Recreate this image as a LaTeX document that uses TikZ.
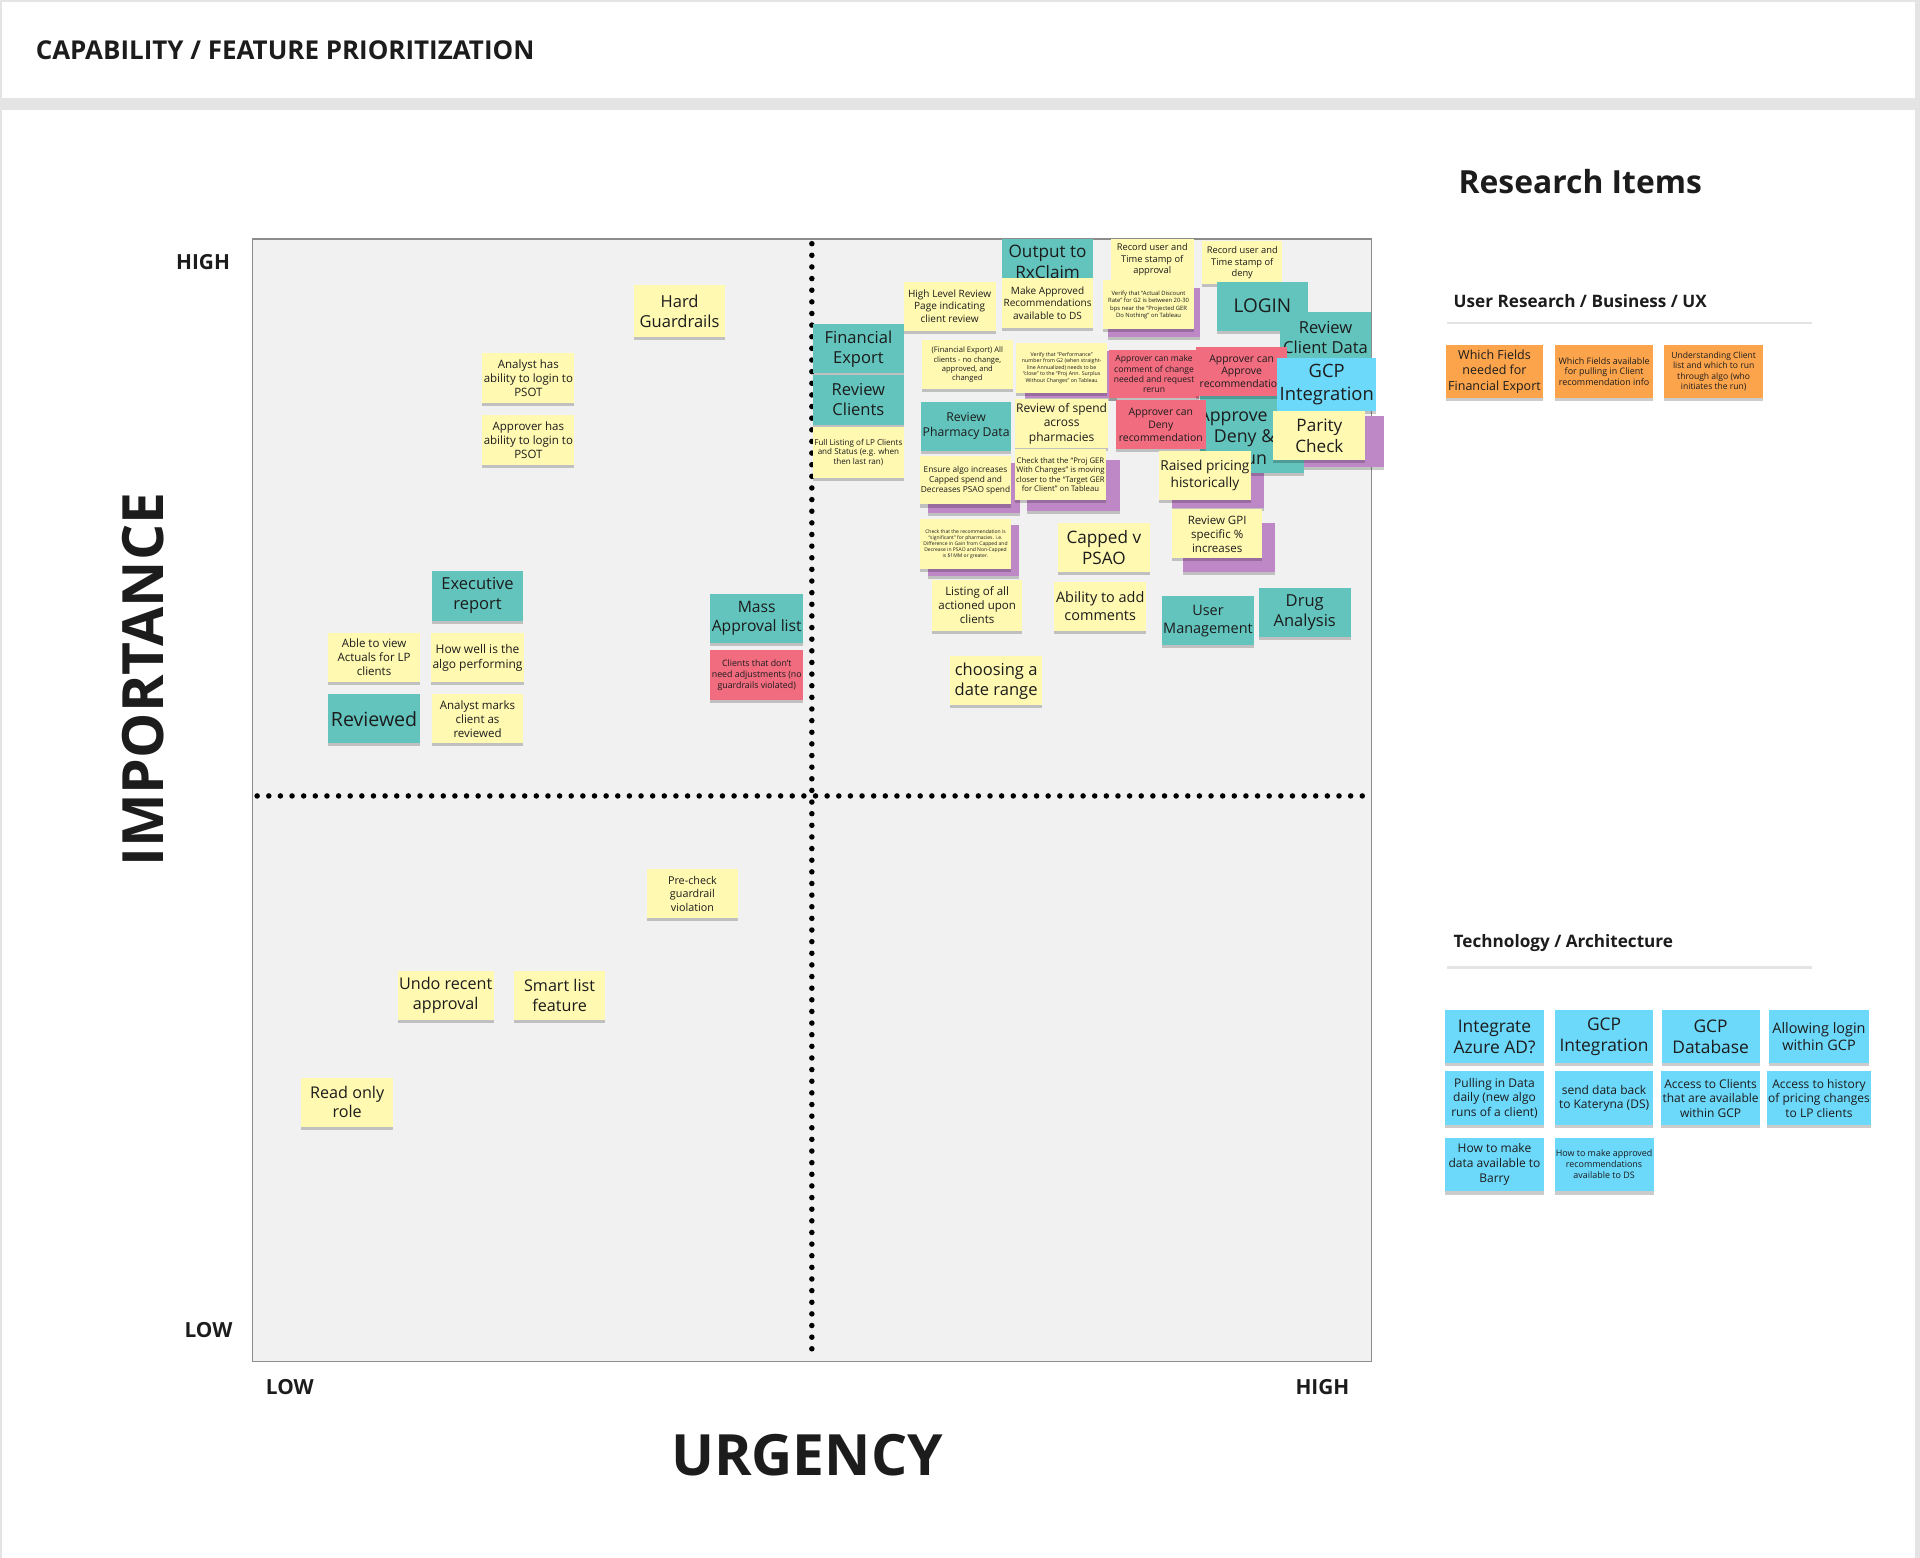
\documentclass[tikz,border=0pt]{standalone}
\usepackage{fontspec}
\setmainfont{Open Sans}
\usetikzlibrary{shadows}
\definecolor{yel}{HTML}{FFF9B1}
\definecolor{teal}{HTML}{62C4BD}
\definecolor{redn}{HTML}{F16C7F}
\definecolor{viol}{HTML}{BE88C7}
\definecolor{cyan}{HTML}{6CD8FA}
\definecolor{oran}{HTML}{FCA44C}
\definecolor{plotbg}{HTML}{F1F1F1}
\definecolor{plotline}{HTML}{8C8C8C}
\definecolor{txt}{HTML}{1C1C1C}
\definecolor{frame}{HTML}{E4E4E4}
\newcommand{\fs}[1]{\fontsize{#1pt}{\fpeval{#1*1.22}pt}\selectfont}
\tikzset{
  note/.style={rectangle, inner sep=1pt, align=center, text=txt,
    drop shadow={shadow xshift=0pt, shadow yshift=-2.5pt, opacity=0.2, fill=black}},
  notetext/.style={inner sep=0pt, align=center, text=txt},
  dots/.style={line width=4.5pt, line cap=round, dash pattern=on 0pt off 9.5pt, black},
  axislbl/.style={font=\bfseries\fs{17}, text=txt, inner sep=0pt},
  heading/.style={text=txt, inner sep=0pt, anchor=west},
  sepline/.style={draw=frame, line width=2pt}
}
\newcommand{\stick}[8]{\node[note,fill=#6,font=\fs{#7},minimum width={(#4-#2)*1pt},minimum height={(#5-#3)*1pt}] (#1) at ({(#2+#4)/2},{(#3+#5)/2}) {#8};}
\begin{document}
\begin{tikzpicture}[x=1pt,y=-1pt]
\useasboundingbox (0,0) rectangle (1568,1272);
% page frame
\fill[frame] (0,0) rectangle (1568,1272);
\fill[white] (2,2) rectangle (1564,80);
\fill[white] (2,90) rectangle (1564,1272);
\node[heading, font=\bfseries\fs{21.2}] (title) at (29,41) {CAPABILITY / FEATURE PRIORITIZATION};
% plot
\node[draw=plotline, line width=1.2pt, fill=plotbg, minimum width=914pt, minimum height=917pt, inner sep=0pt] (plot) at (663,653.5) {};
\coordinate (vtop) at (663,199);
\coordinate (vbot) at (663,1108);
\coordinate (hleft) at (210,650);
\coordinate (hright) at (1116,650);
\draw[dots] (vtop) -- (vbot);
\draw[dots] (hleft) -- (hright);
% axis labels
\node[axislbl, anchor=east] (ihigh) at (188,214) {HIGH};
\node[axislbl, anchor=east] (ilow) at (190,1086) {LOW};
\node[axislbl, anchor=west] (ulow) at (217,1133) {LOW};
\node[axislbl] (uhigh) at (1080,1133) {HIGH};
\node[font=\bfseries\fs{46.5}, text=txt, rotate=90] (imp) at (117,555) {IMPORTANCE};
\node[font=\bfseries\fs{46.5}, text=txt] (urg) at (659,1188) {URGENCY};
% purple notes behind
\stick{p1}{905}{235}{980}{275}{viol}{5}{}
\stick{p2}{837}{287}{912}{325}{viol}{5}{}
\stick{p3}{758}{378}{833}{419}{viol}{5}{}
\stick{p4}{839}{376}{915}{417}{viol}{5}{}
\stick{p5}{758}{429}{832}{470}{viol}{5}{}
\stick{p6}{957}{384}{1032}{415}{viol}{5}{}
\stick{p7}{966}{427}{1041}{467}{viol}{5}{}
\stick{p8}{1064}{340}{1130}{381}{viol}{5}{}
% upper right cluster
\stick{rx}{818}{195}{893}{232}{teal}{14}{Output to\\RxClaim}
\stick{mkds}{818}{227}{893}{268}{yel}{8.2}{Make Approved\\Recommendations\\available to DS}
\stick{hlr}{738}{230}{813}{270}{yel}{8.2}{High Level Review\\Page indicating\\client review}
\stick{rua}{907}{195}{975}{229}{yel}{7.6}{Record user and\\Time stamp of\\approval}
\stick{vad}{901}{229}{975}{269}{yel}{4.8}{Verify that “Actual Discount\\Rate” for G2 is between 20-30\\bps near the “Projected GER\\Do Nothing” on Tableau}
\stick{rud}{982}{197}{1047}{232}{yel}{7.6}{Record user and\\Time stamp of\\deny}
\stick{login}{994}{230}{1068}{270}{teal}{15.5}{LOGIN}
\stick{rcd}{1045}{255}{1120}{296}{teal}{13.5}{Review\\Client Data}
\stick{finx}{664}{265}{738}{305}{teal}{13.5}{Financial\\Export}
\stick{revc}{664}{306}{738}{347}{teal}{13.5}{Review\\Clients}
\stick{full}{664}{349}{738}{390}{yel}{6.6}{Full Listing of LP Clients\\and Status (e.g. when\\then last ran)}
\stick{fxall}{753}{278}{827}{318}{yel}{6.2}{(Financial Export) All\\clients - no change,\\approved, and\\changed}
\stick{vperf}{830}{280}{904}{321}{yel}{4.3}{Verify that “Performance”\\number from G2 (when straight-\\line Annualized) needs to be\\“close” to the “Proj Ann. Surplus\\Without Changes” on Tableau}
\stick{amc}{906}{286}{979}{325}{redn}{7}{Approver can make\\comment of change\\needed and request\\rerun}
\stick{adr}{980}{318}{1065}{386}{teal}{14}{}
\node[notetext, font=\fs{14.5}] (adrA) at (1007,341) {Approve};
\node[notetext, font=\fs{14.5}] (adrB) at (1016,365) {Deny \&\\rerun};
\stick{aca}{977}{283}{1051}{323}{redn}{8.5}{Approver can\\Approve\\recommendation}
\stick{gcpi}{1043}{292}{1124}{336}{cyan}{15}{GCP\\Integration}
\stick{rpd}{752}{328}{826}{368}{teal}{10}{Review\\Pharmacy Data}
\stick{rsp}{830}{326}{904}{366}{yel}{9.8}{Review of spend\\across\\pharmacies}
\stick{acd}{911}{327}{985}{367}{redn}{8.5}{Approver can\\Deny\\recommendation}
\stick{parity}{1040}{336}{1115}{376}{yel}{14}{Parity\\Check}
\stick{ens}{751}{372}{826}{412}{yel}{6.8}{Ensure algo increases\\Capped spend and\\Decreases PSAO spend}
\stick{cpg}{830}{367}{902}{408}{yel}{6.3}{Check that the “Proj GER\\With Changes” is moving\\closer to the “Target GER\\for Client” on Tableau}
\stick{rph}{947}{368}{1021}{408}{yel}{11.2}{Raised pricing\\historically}
\stick{csig}{751}{424}{826}{465}{yel}{4.1}{Check that the recommendation is\\“significant” for pharmacies. i.e.\\Difference in Gain from Capped and\\Decrease in PSAO and Non-Capped\\is \$1MM or greater.}
\stick{gpi}{957}{416}{1031}{456}{yel}{9.4}{Review GPI\\specific \%\\increases}
\stick{cvp}{864}{427}{939}{467}{yel}{14}{Capped v\\PSAO}
\stick{loa}{761}{474}{835}{515}{yel}{9.4}{Listing of all\\actioned upon\\clients}
\stick{aac}{861}{475}{936}{515}{yel}{11.8}{Ability to add\\comments}
\stick{um}{949}{487}{1024}{527}{teal}{11.8}{User\\Management}
\stick{drug}{1028}{480}{1103}{520}{teal}{13.5}{Drug\\Analysis}
\stick{cdr}{776}{536}{851}{576}{yel}{13.5}{choosing a\\date range}
% left upper quadrant
\stick{hard}{518}{233}{592}{275}{yel}{13.5}{Hard\\Guardrails}
\stick{anl}{394}{288}{469}{329}{yel}{9.4}{Analyst has\\ability to login to\\PSOT}
\stick{apl}{394}{339}{469}{380}{yel}{9.4}{Approver has\\ability to login to\\PSOT}
\stick{exr}{353}{466}{427}{507}{teal}{13.5}{Executive\\report}
\stick{atv}{268}{517}{343}{557}{yel}{9.4}{Able to view\\Actuals for LP\\clients}
\stick{hwa}{353}{517}{427}{557}{yel}{9.8}{How well is the\\algo performing}
\stick{revd}{268}{567}{343}{607}{teal}{16}{Reviewed}
\stick{amr}{353}{567}{427}{607}{yel}{9.4}{Analyst marks\\client as\\reviewed}
\stick{mal}{580}{485}{656}{525}{teal}{12.8}{Mass\\Approval list}
\stick{cdn}{580}{531}{656}{572}{redn}{7.2}{Clients that don’t\\need adjustments (no\\guardrails violated)}
% lower left quadrant
\stick{pcg}{528}{710}{603}{750}{yel}{8.8}{Pre-check\\guardrail\\violation}
\stick{undo}{326}{793}{402}{833}{yel}{13.2}{Undo recent\\approval}
\stick{slf}{420}{793}{494}{833}{yel}{13.2}{Smart list\\feature}
\stick{rorole}{246}{880}{321}{920}{yel}{13.2}{Read only\\role}
% research panel
\node[heading, font=\bfseries\fs{26}] (research) at (1191,148) {Research Items};
\node[heading, font=\bfseries\fs{14}] (ures) at (1187,246) {User Research / Business / UX};
\coordinate (l1a) at (1182,264);
\coordinate (l1b) at (1480,264);
\draw[sepline] (l1a) -- (l1b);
\stick{o1}{1181}{282}{1260}{325}{oran}{10.2}{Which Fields\\needed for\\Financial Export}
\stick{o2}{1270}{282}{1350}{325}{oran}{7.3}{Which Fields available\\for pulling in Client\\recommendation info}
\stick{o3}{1359}{282}{1440}{325}{oran}{7}{Understanding Client\\list and which to run\\through algo (who\\initiates the run)}
\node[heading, font=\bfseries\fs{14}] (tech) at (1187,770) {Technology / Architecture};
\coordinate (l2a) at (1182,790);
\coordinate (l2b) at (1480,790);
\draw[sepline] (l2a) -- (l2b);
\stick{t1}{1180}{825}{1261}{868}{cyan}{14.2}{Integrate\\Azure AD?}
\stick{t2}{1270}{825}{1350}{868}{cyan}{14.2}{GCP\\Integration}
\stick{t3}{1357}{825}{1437}{868}{cyan}{14.2}{GCP\\Database}
\stick{t4}{1445}{825}{1526}{868}{cyan}{11.8}{Allowing login\\within GCP}
\stick{t5}{1180}{875}{1261}{919}{cyan}{9.8}{Pulling in Data\\daily (new algo\\runs of a client)}
\stick{t6}{1270}{875}{1350}{919}{cyan}{9.8}{send data back\\to Kateryna (DS)}
\stick{t7}{1357}{875}{1437}{919}{cyan}{9.8}{Access to Clients\\that are available\\within GCP}
\stick{t8}{1445}{875}{1526}{919}{cyan}{9.8}{Access to history\\of pricing changes\\to LP clients}
\stick{t9}{1180}{929}{1261}{973}{cyan}{9.8}{How to make\\data available to\\Barry}
\stick{t10}{1270}{929}{1350}{973}{cyan}{7.3}{How to make approved\\recommendations\\available to DS}
\end{tikzpicture}
\end{document}
